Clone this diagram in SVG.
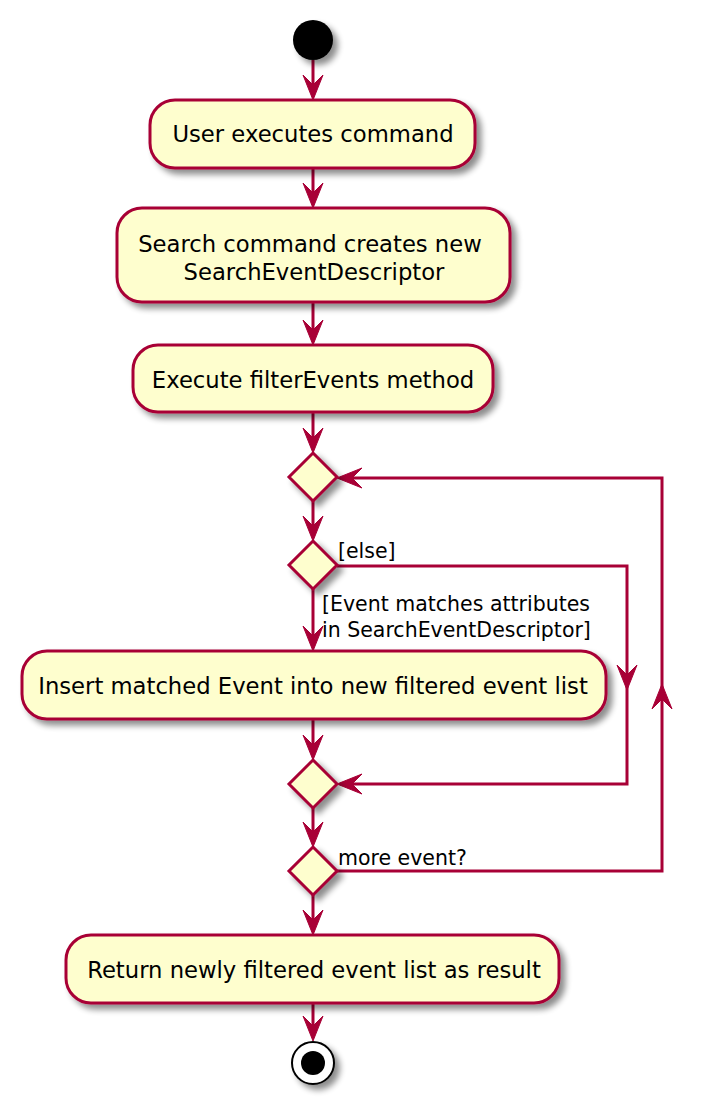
<svg xmlns="http://www.w3.org/2000/svg" width="712" height="1107" viewBox="0 0 712 1107">
<style>
.node{fill:#FEFECE;stroke:#A80036;stroke-width:3;filter:url(#sh)}
.line{fill:none;stroke:#A80036;stroke-width:3}
.head{fill:#A80036;stroke:#A80036;stroke-width:1}
.t{font-family:"DejaVu Sans",sans-serif;font-size:22.7px;fill:#000;text-anchor:middle}
.l{font-family:"DejaVu Sans",sans-serif;font-size:20.5px;fill:#000}
</style>
<defs>
<filter id="sh" x="-20%" y="-20%" width="150%" height="160%">
<feGaussianBlur in="SourceAlpha" stdDeviation="3"/>
<feOffset dx="5" dy="5" result="b"/>
<feComponentTransfer><feFuncA type="linear" slope="0.45"/></feComponentTransfer>
<feMerge><feMergeNode/><feMergeNode in="SourceGraphic"/></feMerge>
</filter>
<path id="ah" d="M-10,-25 L0,0 L10,-25 L0,-15 Z"/>
</defs>
<rect width="712" height="1107" fill="#fff"/>
<g id="connectors">
<line class="line" x1="313" y1="60" x2="313" y2="96"/>
<use href="#ah" class="head" transform="translate(313,100)"/>
<line class="line" x1="313" y1="168" x2="313" y2="204"/>
<use href="#ah" class="head" transform="translate(313,208)"/>
<line class="line" x1="313" y1="302" x2="313" y2="341"/>
<use href="#ah" class="head" transform="translate(313,345)"/>
<line class="line" x1="313" y1="412" x2="313" y2="449"/>
<use href="#ah" class="head" transform="translate(313,453)"/>
<line class="line" x1="313" y1="501" x2="313" y2="537"/>
<use href="#ah" class="head" transform="translate(313,541)"/>
<line class="line" x1="313" y1="589" x2="313" y2="647"/>
<use href="#ah" class="head" transform="translate(313,651)"/>
<line class="line" x1="313" y1="719" x2="313" y2="756"/>
<use href="#ah" class="head" transform="translate(313,760)"/>
<line class="line" x1="313" y1="808" x2="313" y2="843"/>
<use href="#ah" class="head" transform="translate(313,847)"/>
<line class="line" x1="313" y1="895" x2="313" y2="931"/>
<use href="#ah" class="head" transform="translate(313,935)"/>
<line class="line" x1="313" y1="1003" x2="313" y2="1037"/>
<use href="#ah" class="head" transform="translate(313,1041)"/>
<polyline class="line" points="337,566 627,566 627,784 341,784"/>
<use href="#ah" class="head" transform="translate(627,690)"/>
<use href="#ah" class="head" transform="translate(337,784) rotate(90)"/>
<polyline class="line" points="337,871 662,871 662,478 341,478"/>
<use href="#ah" class="head" transform="translate(662,684) rotate(180)"/>
<use href="#ah" class="head" transform="translate(337,478) rotate(90)"/>
<text class="l" x="338" y="558">[else]</text>
<text class="l" x="322" y="611">[Event matches attributes</text>
<text class="l" x="322" y="637">in SearchEventDescriptor]</text>
<text class="l" x="338" y="865">more event?</text>
</g>
<g id="start"><circle cx="313" cy="40" r="20" fill="#000" filter="url(#sh)"/></g>
<g id="n1"><rect class="node" x="150" y="100" width="325" height="68" rx="25"/><text class="t" x="313" y="142">User executes command</text></g>
<g id="n2"><rect class="node" x="117" y="208" width="393" height="94" rx="25"/><text class="t" x="310" y="252">Search command creates new</text><text class="t" x="314" y="280">SearchEventDescriptor</text></g>
<g id="n3"><rect class="node" x="133" y="345" width="360" height="67" rx="25"/><text class="t" x="313" y="388">Execute filterEvents method</text></g>
<g id="d1"><polygon class="node" points="313,453 337,477 313,501 289,477"/></g>
<g id="d2"><polygon class="node" points="313,541 337,565 313,589 289,565"/></g>
<g id="n4"><rect class="node" x="22" y="651" width="584" height="68" rx="25"/><text class="t" x="313" y="694">Insert matched Event into new filtered event list</text></g>
<g id="d3"><polygon class="node" points="313,760 337,784 313,808 289,784"/></g>
<g id="d4"><polygon class="node" points="313,847 337,871 313,895 289,871"/></g>
<g id="n5"><rect class="node" x="66" y="935" width="493" height="68" rx="25"/><text class="t" x="314" y="978">Return newly filtered event list as result</text></g>
<g id="end"><circle cx="313" cy="1063" r="21" fill="#fff" stroke="#000" stroke-width="2" filter="url(#sh)"/><circle cx="313" cy="1063" r="12" fill="#000"/></g>
</svg>
